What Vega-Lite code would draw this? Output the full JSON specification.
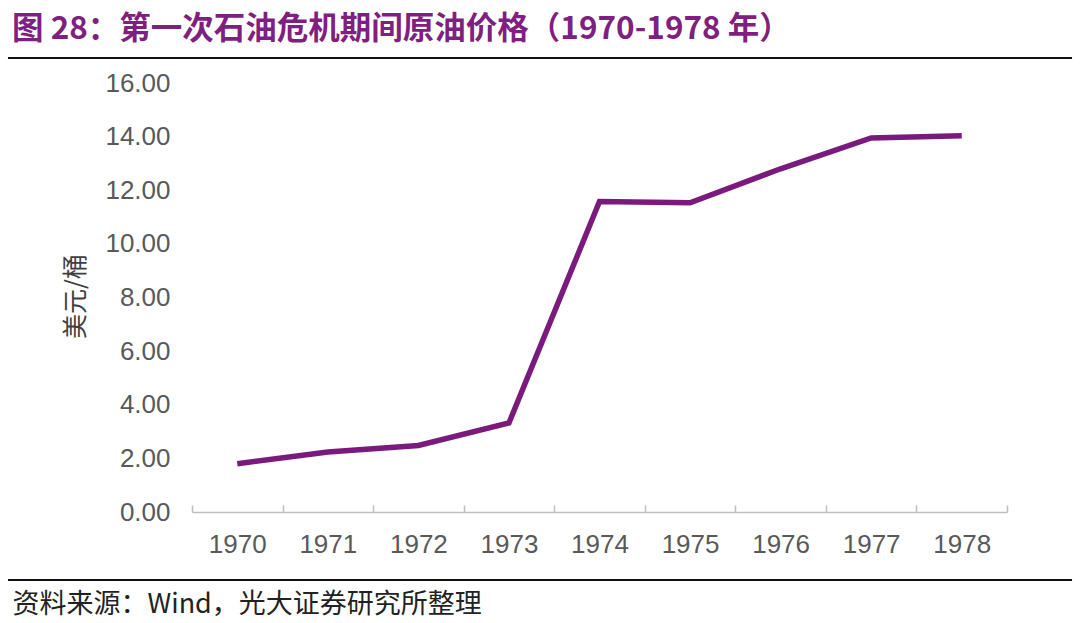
{
  "$schema": "https://vega.github.io/schema/vega-lite/v6.json",
  "width": 815,
  "height": 429,
  "autosize": "none",
  "padding": {"left": 192, "top": 83, "right": 73, "bottom": 111},
  "background": "white",
  "config": {"view": {"stroke": null}},
  "title": {
    "text": "图 28：第一次石油危机期间原油价格（1970-1978 年）",
    "font": "Noto Sans CJK SC",
    "fontSize": 31.5,
    "fontWeight": "bold",
    "color": "#7f1f80",
    "anchor": "start",
    "frame": "group",
    "dx": -180,
    "offset": 12
  },
  "resolve": {"scale": {"x": "independent"}},
  "layer": [
    {
      "data": {
        "values": [
          {"year": "1970", "price": 1.8},
          {"year": "1971", "price": 2.24},
          {"year": "1972", "price": 2.48},
          {"year": "1973", "price": 3.32},
          {"year": "1974", "price": 11.58},
          {"year": "1975", "price": 11.53},
          {"year": "1976", "price": 12.8},
          {"year": "1977", "price": 13.95},
          {"year": "1978", "price": 14.03}
        ]
      },
      "mark": {"type": "line", "color": "#7a1a7d", "strokeWidth": 5.5, "strokeJoin": "miter", "strokeCap": "butt"},
      "encoding": {
        "x": {
          "field": "year",
          "type": "ordinal",
          "scale": {"type": "band", "paddingInner": 0, "paddingOuter": 0},
          "axis": {
            "labelAngle": 0,
            "labelFont": "Liberation Sans",
            "labelFontSize": 26,
            "labelColor": "#595959",
            "labelPadding": 26,
            "domainColor": "#bfbfbf",
            "domainWidth": 1.5,
            "tickColor": "#bfbfbf",
            "tickWidth": 1.5,
            "tickSize": -7,
            "tickBand": "extent",
            "grid": false,
            "title": "资料来源：Wind，光大证券研究所整理",
            "titleFont": "Noto Sans CJK SC",
            "titleFontSize": 27,
            "titleFontWeight": "normal",
            "titleColor": "#222222",
            "titleAnchor": "start",
            "titleAlign": "left",
            "titleBaseline": "alphabetic",
            "titleX": -180,
            "titleY": 100
          }
        },
        "y": {
          "field": "price",
          "type": "quantitative",
          "scale": {"domain": [0, 16], "nice": false},
          "axis": {
            "values": [0, 2, 4, 6, 8, 10, 12, 14, 16],
            "format": ".2f",
            "labelFont": "Liberation Sans",
            "labelFontSize": 26,
            "labelColor": "#595959",
            "labelPadding": 22,
            "domain": false,
            "ticks": false,
            "grid": false,
            "title": "美元/桶",
            "titleFont": "Noto Sans CJK SC",
            "titleFontSize": 25,
            "titleFontWeight": "normal",
            "titleColor": "#404040",
            "titleX": -117,
            "titleY": 213,
            "titleAlign": "center",
            "titleBaseline": "middle"
          }
        }
      }
    },
    {
      "data": {"values": [{}]},
      "mark": {"type": "rule", "color": "#111111", "strokeWidth": 2, "clip": false},
      "encoding": {
        "y": {"datum": 16.93, "type": "quantitative"},
        "x": {"datum": -0.2258, "type": "quantitative", "scale": {"domain": [0, 1], "nice": false, "zero": false}, "axis": null},
        "x2": {"datum": 1.0798}
      }
    },
    {
      "data": {"values": [{}]},
      "mark": {"type": "rule", "color": "#111111", "strokeWidth": 2, "clip": false},
      "encoding": {
        "y": {"datum": -2.536, "type": "quantitative"},
        "x": {"datum": -0.2258, "type": "quantitative", "scale": {"domain": [0, 1], "nice": false, "zero": false}, "axis": null},
        "x2": {"datum": 1.0798}
      }
    }
  ]
}
